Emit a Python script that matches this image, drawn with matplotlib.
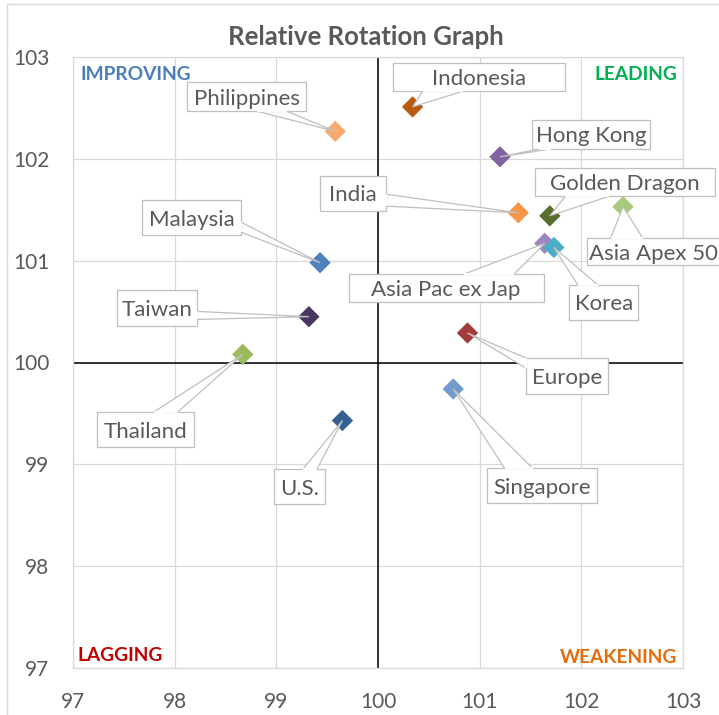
import matplotlib
matplotlib.use("Agg")
import matplotlib.pyplot as plt
from matplotlib.patches import Rectangle, Polygon

plt.rcParams["font.family"] = ["Lato", "DejaVu Sans"]

names = ["Indonesia", "Philippines", "Hong Kong", "India", "Golden Dragon",
         "Asia Apex 50", "Asia Pac ex Jap", "Korea", "Malaysia", "Taiwan",
         "Thailand", "Europe", "Singapore", "U.S."]
rs_ratio = [100.34, 99.58, 101.20, 101.38, 101.69, 102.41, 101.64, 101.73,
            99.43, 99.32, 98.67, 100.88, 100.74, 99.65]
rs_momentum = [102.51, 102.27, 102.02, 101.47, 101.44, 101.53, 101.17, 101.13,
               100.98, 100.45, 100.08, 100.29, 99.74, 99.43]
colors = ["#B85B10", "#F9AA6F", "#8064A2", "#F79646", "#586E2B", "#A9C97A",
          "#9F86C0", "#4BACC6", "#4F81BD", "#48365E", "#9BBB59", "#A33C3A",
          "#729ACA", "#366092"]

# callout layout: box centre (data coords), box size (px),
# and the pointer base: edge, position along the edge, half width (px)
label_xy = [(100.99, 102.80), (98.71, 102.61), (102.10, 102.24), (99.75, 101.66),
            (102.43, 101.77), (102.71, 101.09), (100.67, 100.73), (102.22, 100.59),
            (98.17, 101.42), (97.83, 100.54), (97.71, 99.34), (101.86, 99.87),
            (101.61, 98.79), (99.23, 98.78)]
box_size = [(172, 28), (119, 29), (118, 29), (66, 35), (180, 28), (134, 27),
            (195, 28), (69, 35), (99, 35), (80, 36), (97, 35), (82, 36),
            (110, 35), (51, 35)]
pointer = [("bottom", 0.29, 20), ("bottom", 0.71, 15), ("bottom", 0.11, 6),
           ("right", 0.31, 6), ("bottom", 0.29, 22), ("top", 0.3, 16),
           ("top", 0.72, 25), ("top", 0.27, 10), ("right", 0.23, 5),
           ("right", 0.28, 4), ("top", 0.71, 12), ("left", 0.85, 5),
           ("top", 0.29, 14), ("top", 0.7, 7)]

ticks = [97, 98, 99, 100, 101, 102, 103]
text_grey = "#595959"
grid_grey = "#D9D9D9"
box_grey = "#BFBFBF"

fig = plt.figure(figsize=(7.19, 7.15), dpi=100)
ax = fig.add_axes([73 / 719, 47 / 715, 610 / 719, 611 / 715])

# chart area frame (runs off the right and bottom of the picture)
fig.patches.append(Rectangle((7 / 719, -0.1), 1.2, 1.1 - 4 / 715, transform=fig.transFigure,
                             fill=False, ec=grid_grey, lw=1))

ax.set_xlim(97, 103)
ax.set_ylim(97, 103)
ax.set_xticks(ticks)
ax.set_yticks(ticks)
ax.grid(True, color=grid_grey, lw=0.9)
ax.set_axisbelow(True)
for sp in ax.spines.values():
    sp.set_color(grid_grey)
    sp.set_linewidth(0.9)
ax.tick_params(length=0, labelsize=15, labelcolor=text_grey)
ax.tick_params(axis="y", pad=17)
ax.tick_params(axis="x", pad=17)

ax.axhline(100, color="black", lw=1.1, zorder=1)
ax.axvline(100, color="black", lw=1.1, zorder=1)

ax.scatter(rs_ratio, rs_momentum, marker="D", s=118, c=colors, zorder=2, linewidths=0)

to_data = ax.transData.inverted()
for i, name in enumerate(names):
    cx, cy = ax.transData.transform(label_xy[i])
    w, h = box_size[i]
    x0, y0, x1, y1 = cx - w / 2, cy - h / 2, cx + w / 2, cy + h / 2
    edge, frac, hw = pointer[i]
    if edge == "top":
        bx, by = x0 + frac * w, y1
        base = [(bx - hw, by), (bx + hw, by)]
    elif edge == "bottom":
        bx, by = x0 + frac * w, y0
        base = [(bx - hw, by), (bx + hw, by)]
    elif edge == "left":
        bx, by = x0, y0 + frac * h
        base = [(bx, by - hw), (bx, by + hw)]
    else:
        bx, by = x1, y0 + frac * h
        base = [(bx, by - hw), (bx, by + hw)]
    tip = ax.transData.transform((rs_ratio[i], rs_momentum[i]))
    pts = to_data.transform([base[0], tip, base[1]])
    ax.add_patch(Polygon(pts, closed=True, fc="white", ec=box_grey, lw=0.9,
                         zorder=3, clip_on=False))
    (dx0, dy0), (dx1, dy1) = to_data.transform([(x0, y0), (x1, y1)])
    ax.add_patch(Rectangle((dx0, dy0), dx1 - dx0, dy1 - dy0, fc="white", ec=box_grey,
                           lw=0.9, zorder=4, clip_on=False))
    gap = to_data.transform(base)
    ax.plot(gap[:, 0], gap[:, 1], color="white", lw=1.4, zorder=4.5, clip_on=False,
            solid_capstyle="butt")
    ax.text(label_xy[i][0], label_xy[i][1], name, ha="center", va="center_baseline",
            fontsize=16, color=text_grey, zorder=5, clip_on=False)

ax.text(0.012, 0.985, "IMPROVING", transform=ax.transAxes, ha="left", va="top",
        fontsize=13.8, fontweight="bold", color="#4A7EBB")
ax.text(0.99, 0.985, "LEADING", transform=ax.transAxes, ha="right", va="top",
        fontsize=13.8, fontweight="bold", color="#00B050")
ax.text(0.008, 0.007, "LAGGING", transform=ax.transAxes, ha="left", va="bottom",
        fontsize=13.8, fontweight="bold", color="#C00000")
ax.text(0.99, 0.003, "WEAKENING", transform=ax.transAxes, ha="right", va="bottom",
        fontsize=13.8, fontweight="bold", color="#E46C0A")

fig.text(366 / 719, 1 - 37 / 715, "Relative Rotation Graph", ha="center", va="center",
         fontsize=18.5, fontweight="bold", color=text_grey)

fig.savefig("out.png", dpi=100)
